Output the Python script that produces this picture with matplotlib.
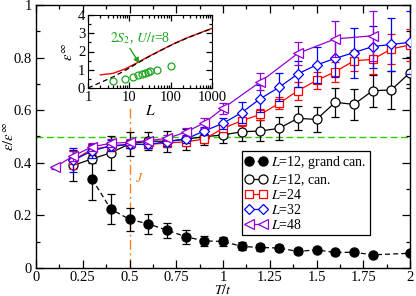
import numpy as np
import matplotlib
matplotlib.use("Agg")
import matplotlib.pyplot as plt
from matplotlib.lines import Line2D
from matplotlib.ticker import MultipleLocator, FuncFormatter, LogLocator, NullFormatter

plt.rcParams['font.family'] = ['Liberation Serif', 'DejaVu Serif']
plt.rcParams['mathtext.fontset'] = 'stix'
plt.rcParams['font.size'] = 10

# ---------------- main data ----------------
T_gc = [0.3, 0.4, 0.5, 0.6, 0.7, 0.8, 0.9, 1.0, 1.1, 1.2, 1.3, 1.4, 1.5, 1.6, 1.7, 1.8, 2.0]
eps_gc = [0.338, 0.224, 0.185, 0.168, 0.144, 0.119, 0.103, 0.101, 0.082, 0.078, 0.076, 0.063, 0.069, 0.059, 0.060, 0.050, 0.056]
err_gc = [0.08, 0.058, 0.043, 0.037, 0.029, 0.027, 0.018, 0.018, 0.015, 0.013, 0.013, 0.01, 0.01, 0.008, 0.008, 0.008, 0.008]

T_c = [0.2, 0.3, 0.4, 0.5, 0.6, 0.7, 0.8, 0.9, 1.0, 1.1, 1.2, 1.3, 1.4, 1.5, 1.6, 1.7, 1.8, 1.9, 2.0]
eps_c = [0.39, 0.415, 0.438, 0.472, 0.482, 0.482, 0.49, 0.499, 0.506, 0.518, 0.521, 0.531, 0.569, 0.565, 0.63, 0.622, 0.674, 0.677, 0.743]
err_c = [0.06, 0.015, 0.065, 0.047, 0.035, 0.04, 0.04, 0.03, 0.03, 0.035, 0.04, 0.043, 0.046, 0.048, 0.054, 0.06, 0.06, 0.073, 0.06]

T_24 = [0.2, 0.3, 0.4, 0.5, 0.6, 0.7, 0.8, 0.9, 1.0, 1.1, 1.2, 1.3, 1.4, 1.5, 1.6, 1.7, 1.8, 1.9, 2.0]
eps_24 = [0.41, 0.452, 0.462, 0.47, 0.47, 0.475, 0.48, 0.49, 0.531, 0.56, 0.584, 0.626, 0.674, 0.713, 0.746, 0.788, 0.793, 0.833, 0.848]
err_24 = [0.035, 0.02, 0.018, 0.015, 0.015, 0.015, 0.015, 0.015, 0.015, 0.02, 0.02, 0.023, 0.035, 0.032, 0.038, 0.04, 0.055, 0.057, 0.06]

T_32 = [0.2, 0.3, 0.4, 0.5, 0.6, 0.7, 0.8, 0.9, 1.0, 1.1, 1.2, 1.3, 1.4, 1.5, 1.6, 1.7, 1.8, 1.9, 2.0]
eps_32 = [0.41, 0.445, 0.465, 0.47, 0.47, 0.48, 0.49, 0.521, 0.55, 0.591, 0.644, 0.687, 0.738, 0.772, 0.797, 0.819, 0.842, 0.85, 0.858]
err_32 = [0.045, 0.025, 0.02, 0.015, 0.015, 0.015, 0.015, 0.015, 0.02, 0.04, 0.05, 0.053, 0.05, 0.07, 0.07, 0.095, 0.08, 0.1, 0.12]

T_48 = [0.1, 0.2, 0.3, 0.4, 0.5, 0.6, 0.7, 0.8, 0.9, 1.0, 1.2, 1.4, 1.6, 1.8]
eps_48 = [0.383, 0.426, 0.461, 0.474, 0.478, 0.484, 0.493, 0.516, 0.552, 0.607, 0.708, 0.816, 0.871, 0.883]
err_48 = [0.005, 0.02, 0.015, 0.015, 0.012, 0.012, 0.012, 0.015, 0.02, 0.02, 0.032, 0.044, 0.07, 0.095]

ref_level = 0.5
J_T = 0.5
J_top = 0.61

# ---------------- inset data ----------------
L_red = [2, 4, 8, 16, 32, 64, 128, 256, 512, 1000]
eps_red = [0.72, 0.8, 1.05, 1.4, 1.77, 2.12, 2.46, 2.76, 3.02, 3.27]
L_blk = [1, 2, 4, 8, 16, 32, 64, 128, 256, 512, 1000]
eps_blk = [0.0, 0.3, 0.6, 0.97, 1.37, 1.76, 2.11, 2.45, 2.75, 3.01, 3.26]
L_grn = [4, 8, 12, 16, 20, 24, 28, 32, 48, 100]
eps_grn = [0.36, 0.51, 0.63, 0.71, 0.78, 0.84, 0.87, 0.91, 1.0, 1.23]

BLUE = '#0000FF'
RED = '#FF0000'
VIOLET = '#9400D3'
GREEN_LINE = '#33CC00'
GREEN_PT = '#1FA51F'
ORANGE = '#FF8020'

fig = plt.figure(figsize=(4.16, 2.96), dpi=100)
ax = fig.add_axes([36/416, 28/296, 374/416, 263/296])

ekw = dict(capsize=3.2, elinewidth=0.9, capthick=0.9, lw=0.9)

ax.axhline(ref_level, color=GREEN_LINE, ls=(0, (5, 2.5)), lw=1.0, zorder=1)
ax.axvline(J_T, ymin=0, ymax=J_top, color=ORANGE, ls=(0, (7, 2.5, 1.5, 2.5)), lw=1.0, zorder=1)

series = [
    (T_gc, eps_gc, err_gc, dict(color='black', ls=(0, (4, 2.5)), marker='o', ms=6.5, mfc='black', mec='black'), r'$L$=12, grand can.', 3),
    (T_c, eps_c, err_c, dict(color='black', ls='-', marker='o', ms=6.5, mfc='white', mec='black', mew=0.9), r'$L$=12, can.', 3),
    (T_24, eps_24, err_24, dict(color=RED, ls='-', marker='s', ms=5.2, mfc='white', mec=RED, mew=0.9), r'$L$=24', 4),
    (T_32, eps_32, err_32, dict(color=BLUE, ls='-', marker='D', ms=5.2, mfc='white', mec=BLUE, mew=0.9), r'$L$=32', 5),
    (T_48, eps_48, err_48, dict(color=VIOLET, ls='-', marker='<', ms=6.5, mfc='white', mec=VIOLET, mew=0.9), r'$L$=48', 6),
]
handles = []
for T, e, er, st, lab, z in series:
    ax.errorbar(T, e, yerr=er, zorder=z, **st, **ekw)
    handles.append(Line2D([], [], lw=0.9, **st))
labels = [s[4] for s in series]

ax.text(0.53, 0.34, r'$J$', color=ORANGE, fontsize=10, ha='left', va='center')

ax.set_xlim(0, 2)
ax.set_ylim(0, 1)
ax.xaxis.set_major_locator(MultipleLocator(0.25))
ax.xaxis.set_minor_locator(MultipleLocator(0.125))
ax.yaxis.set_major_locator(MultipleLocator(0.2))
ax.yaxis.set_minor_locator(MultipleLocator(0.1))
fmt = FuncFormatter(lambda v, p: ('%g' % round(v, 3)))
ax.xaxis.set_major_formatter(fmt)
ax.yaxis.set_major_formatter(fmt)
ax.tick_params(which='both', direction='in', top=True, right=True, width=0.9, labelsize=10.5)
ax.tick_params(which='major', length=6)
ax.tick_params(axis='x', which='major', pad=2)
ax.tick_params(axis='y', which='major', pad=3)
ax.tick_params(which='minor', length=3)
for s in ax.spines.values():
    s.set_linewidth(1.0)
ax.set_xlabel(r'$T/t$', fontsize=10)
ax.xaxis.set_label_coords(0.5, -0.058)
ax.xaxis.label.set_va('top')
ax.set_ylabel(r'$\varepsilon/\varepsilon^{\infty}$', fontsize=10.5)
ax.yaxis.set_label_coords(-0.05, 0.5)

leg = ax.legend(handles, labels, loc='lower left', bbox_to_anchor=(0.55, 0.125), borderaxespad=0,
                numpoints=2, handlelength=1.6, handletextpad=0.25, labelspacing=0.05,
                borderpad=0.25, fancybox=False, framealpha=1, edgecolor='black', fontsize=10)
leg.get_frame().set_linewidth(0.9)

# ---------------- inset ----------------
ins = fig.add_axes([88/416, 208/296, 124/416, 73/296])
ins.plot(L_red, eps_red, color=RED, lw=1.0, zorder=2)
ins.plot(L_blk, eps_blk, color='black', lw=0.9, ls=(0, (4, 2.5)), zorder=3)
ins.plot(L_grn, eps_grn, ls='none', marker='o', ms=5, mfc='none', mec=GREEN_PT, mew=0.9, zorder=4)
ins.set_xscale('log')
ins.set_xlim(1, 1000)
ins.set_ylim(0, 4)
ins.xaxis.set_major_locator(LogLocator(base=10, numticks=10))
ins.xaxis.set_minor_locator(LogLocator(base=10, subs=np.arange(2, 10), numticks=10))
ins.xaxis.set_minor_formatter(NullFormatter())
ins.xaxis.set_major_formatter(FuncFormatter(lambda v, p: '%d' % round(v)))
ins.yaxis.set_major_locator(MultipleLocator(1))
ins.yaxis.set_minor_locator(MultipleLocator(0.5))
ins.tick_params(which='both', direction='in', top=True, right=True, width=0.9, labelsize=10.5)
ins.tick_params(which='major', length=4, pad=2)
ins.tick_params(which='minor', length=2)
ins.set_xlabel(r'$L$', labelpad=0, fontsize=11)
ins.set_ylabel(r'$\varepsilon^{\infty}$', labelpad=1, fontsize=10.5)
ins.annotate(r'$2S_2$, $U/t$=8', xy=(19, 1.22), xytext=(3.4, 2.73), color=GREEN_PT,
             fontsize=10, va='center', ha='left')
ins.annotate('', xy=(19, 1.22), xytext=(9.5, 2.3),
             arrowprops=dict(arrowstyle='-|>', color=GREEN_PT, lw=1.0, mutation_scale=8))

fig.savefig('out.png', dpi=100)
